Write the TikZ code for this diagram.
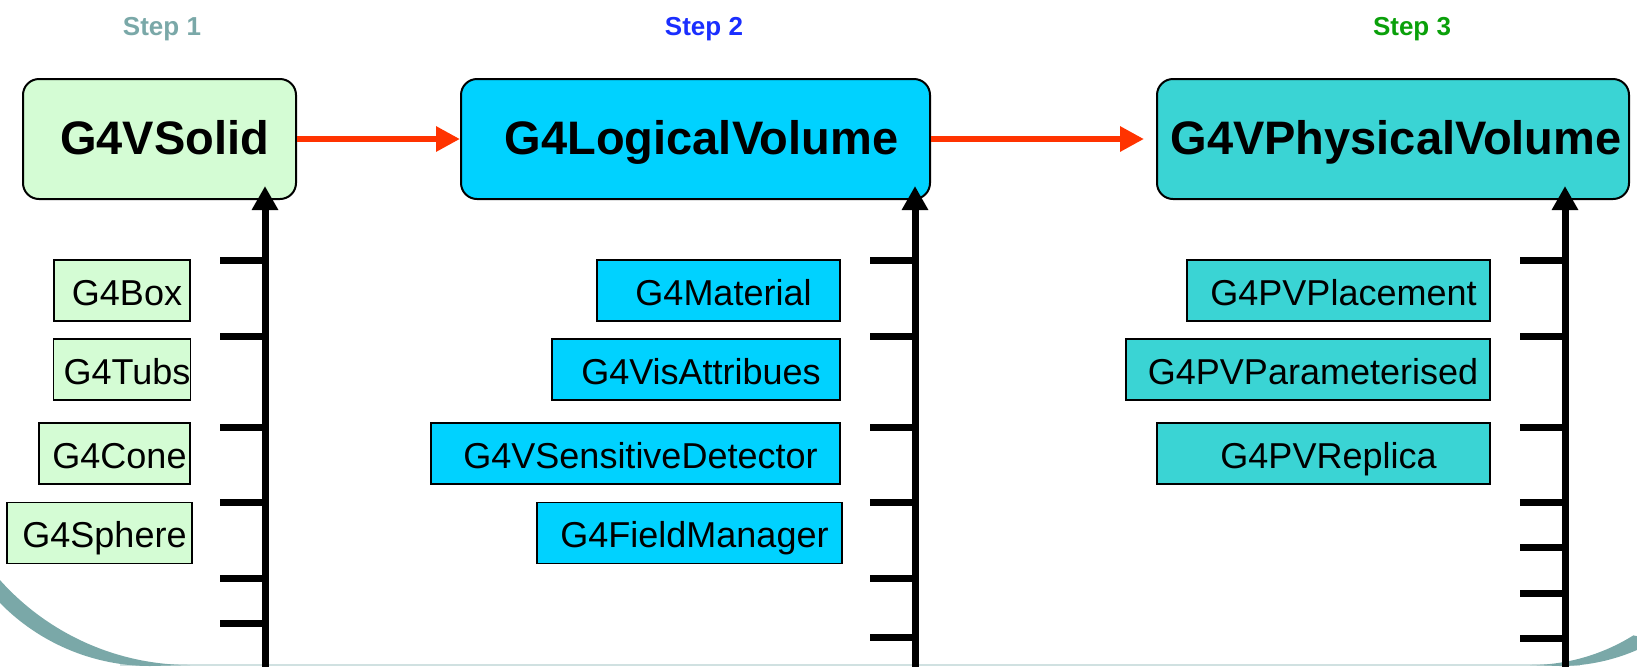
\documentclass[tikz,border=0pt]{standalone}
\usepackage{fontspec}
\setmainfont{Liberation Sans}
\usetikzlibrary{arrows.meta}

\definecolor{verdeclaro}{HTML}{D4FCD4}
\definecolor{cian}{HTML}{00D2FF}
\definecolor{turquesa}{HTML}{3AD4D4}
\definecolor{gris}{HTML}{7AA8A8}
\definecolor{azul}{HTML}{1A2EFF}
\definecolor{verde}{HTML}{0AA00A}
\definecolor{rojo}{HTML}{FF3300}

\begin{document}
\begin{tikzpicture}[x=0.5pt,y=-0.5pt,
	paso/.style={font=\fontsize{13pt}{15pt}\selectfont\bfseries, anchor=base, inner sep=0pt},
	clase/.style={draw, line width=1pt, rounded corners=8pt, minimum height=60pt,
		text height=17pt, text depth=2pt, inner sep=0pt,
		execute at begin node=\hspace*{5pt},
		font=\fontsize{23.5pt}{28pt}\selectfont\bfseries},
	miembro/.style={draw, line width=0.8pt, minimum width={#1*0.5pt}, minimum height=30.5pt,
		text height=16pt, text depth=1.5pt, inner sep=0pt,
		execute at begin node=\hspace*{5pt},
		font=\fontsize{18pt}{21pt}\selectfont},
	flecha/.style={rojo, line width=3pt, -{Triangle[length=12pt,width=12pt]}},
	eje/.style={line width=3.5pt, -{Triangle[length=12pt,width=12.5pt]}, shorten >=-7pt},
	marca/.style={line width=3.5pt}]

	\useasboundingbox (0,0) rectangle (1637,666);
	\clip (0,0) rectangle (1637,666);

	% Marco
	\draw [gris!35, line width=1pt] (120,665) -- (1580,665);
	\fill [gris] ([shift={(150,456)}]140:210) arc [start angle=140, end angle=90, radius=210]
		-- (190,665) arc [start angle=90, end angle=142, radius=255] -- cycle;
	\fill [gris] (1560,666) arc [start angle=90, end angle=60, radius=193]
		-- ([shift={(1530,470)}]58:195) arc [start angle=58, end angle=90, radius=195] -- cycle;

	% Pasos
	\node [paso, gris] (paso1) at (162,35) {Step 1};
	\node [paso, azul] (paso2) at (704,35) {Step 2};
	\node [paso, verde] (paso3) at (1412,35) {Step 3};

	% Clases principales
	\node [clase, fill=verdeclaro, minimum width=136.5pt] (solido) at (159.5,139) {G4VSolid};
	\node [clase, fill=cian, minimum width=234.5pt] (logico) at (695.5,139) {\hspace*{1pt}G4LogicalVolume};
	\node [clase, fill=turquesa, minimum width=236pt, execute at begin node=\hspace*{-2pt}] (fisico) at (1393,139) {G4VPhysicalVolume};

	\draw [flecha] (solido) -- (logico);
	\draw [flecha, shorten >=6pt] (logico) -- (fisico);

	% Solidos
	\node [miembro=136, fill=verdeclaro] (caja) at (122,290.5) {G4Box};
	\node [miembro=136, fill=verdeclaro] (tubo) at (122,369.5) {G4Tubs};
	\node [miembro=151, fill=verdeclaro] (cono) at (114.5,453.5) {G4Cone};
	\node [miembro=185, fill=verdeclaro] (esfera) at (99.5,533) {G4Sphere};

	% Volumen logico
	\node [miembro=243, fill=cian] (material) at (718.5,290.5) {G4Material};
	\node [miembro=288, fill=cian] (atributos) at (696,369.5) {G4VisAttribues};
	\node [miembro=409, fill=cian] (detector) at (635.5,453.5) {G4VSensitiveDetector};
	\node [miembro=305, fill=cian] (campo) at (689.5,533) {G4FieldManager};

	% Volumen fisico
	\node [miembro=303, fill=turquesa] (colocacion) at (1338.5,290.5) {G4PVPlacement};
	\node [miembro=364, fill=turquesa] (parametrizado) at (1308,369.5) {G4PVParameterised};
	\node [miembro=333, fill=turquesa] (replica) at (1323.5,453.5) {G4PVReplica};

	% Ejes
	\coordinate (base1) at (265,670);
	\coordinate (base2) at (915,670);
	\coordinate (base3) at (1565,670);
	\draw [eje] (base1) -- (base1 |- solido.south);
	\draw [eje] (base2) -- (base2 |- logico.south);
	\draw [eje] (base3) -- (base3 |- fisico.south);

	\foreach \y in {260,336,427,502,578,623}
		\draw [marca] (220,\y) -- (265,\y);
	\foreach \y in {260,336,427,502,578,637}
		\draw [marca] (870,\y) -- (915,\y);
	\foreach \y in {260,336,427,502,547,593,638}
		\draw [marca] (1520,\y) -- (1565,\y);
\end{tikzpicture}
\end{document}
